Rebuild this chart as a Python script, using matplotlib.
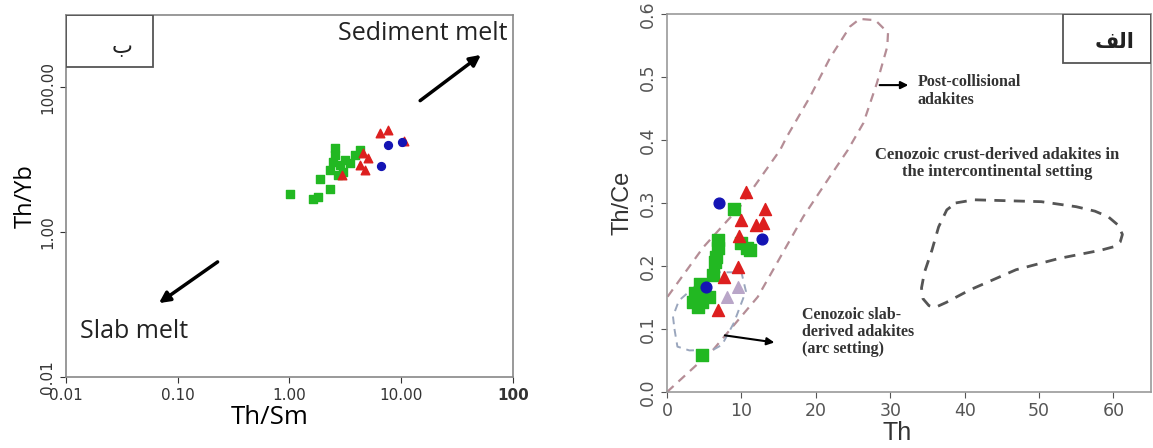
import numpy as np
import matplotlib.pyplot as plt
from matplotlib.patches import Rectangle

# ---- left diagram: Th/Sm vs Th/Yb (log-log) ----
sq_thsm = [1.01, 1.62, 1.80, 1.87, 2.30, 2.55, 2.55, 2.45, 2.83, 3.14, 3.48, 4.27, 3.01, 2.72, 3.86, 2.30]
sq_thyb = [3.34, 2.85, 3.04, 5.4, 4.0, 14.4, 11.5, 9.2, 8.4, 9.8, 9.0, 13.5, 6.7, 6.1, 11.5, 7.2]
tri_thsm = [6.46, 7.6, 4.55, 5.04, 4.28, 4.74, 2.95, 10.6]
tri_thyb = [23.2, 25.5, 12.3, 10.5, 8.4, 7.2, 6.1, 18.0]
cir_thsm = [7.6, 10.2, 6.6]
cir_thyb = [15.8, 17.4, 8.1]

# ---- right diagram: Th vs Th/Ce ----
r_sq_th = [9.0, 6.8, 6.8, 6.6, 6.5, 10.0, 10.7, 11.2, 6.2, 4.4, 3.8, 4.9, 3.5, 4.7, 4.2, 5.6, 4.7]
r_sq_ce = [0.290, 0.241, 0.228, 0.215, 0.206, 0.236, 0.228, 0.225, 0.186, 0.172, 0.157, 0.157,
           0.143, 0.143, 0.135, 0.151, 0.059]
r_tri_th = [10.6, 13.2, 10.0, 12.0, 12.9, 9.7, 9.6, 7.6, 6.9]
r_tri_ce = [0.318, 0.291, 0.273, 0.265, 0.268, 0.247, 0.199, 0.183, 0.130]
r_pur_th = [9.6, 8.0]
r_pur_ce = [0.167, 0.151]
r_cir_th = [7.0, 12.7, 5.3]
r_cir_ce = [0.300, 0.242, 0.167]

# field outlines
post_th = [0.0, 6.2, 12.2, 18.3, 21.9, 24.3, 26.4, 28.2, 29.6, 29.7, 28.0, 25.9, 24.6,
           21.9, 19.2, 16.1, 15.2, 9.8, 4.9, 0.0]
post_ce = [0.0, 0.067, 0.151, 0.278, 0.342, 0.384, 0.427, 0.49, 0.548, 0.57, 0.59, 0.592, 0.58,
           0.53, 0.468, 0.405, 0.384, 0.294, 0.23, 0.15]
slab_th = [1.0, 1.4, 3.0, 6.2, 7.4, 9.0, 10.6, 10.0, 7.0, 4.0, 1.6, 0.8, 1.0]
slab_ce = [0.10, 0.072, 0.066, 0.067, 0.075, 0.11, 0.16, 0.19, 0.19, 0.17, 0.145, 0.12, 0.10]
crust_th = [38.8, 41.3, 50.3, 55.0, 57.5, 59.3, 60.6, 61.2, 60.9, 60.2, 58.3, 52.7, 46.9, 40.7,
            37.5, 36.0, 35.2, 34.4, 34.2, 34.6, 35.6, 36.5, 37.6, 38.8]
crust_ce = [0.30, 0.305, 0.302, 0.294, 0.287, 0.278, 0.265, 0.25, 0.238, 0.231, 0.225, 0.212, 0.194,
            0.162, 0.142, 0.134, 0.137, 0.148, 0.165, 0.19, 0.225, 0.262, 0.289, 0.30]

green = '#22b822'
red = '#dd1f1f'
blue = '#1414b4'

fig = plt.figure(figsize=(11.53, 4.48), dpi=100)

# left panel
ax1 = fig.add_axes([0.057, 0.158, 0.388, 0.809])
ax1.set_xscale('log')
ax1.set_yscale('log')
ax1.set_xlim(0.01, 100)
ax1.set_ylim(0.01, 1000)
ax1.scatter(sq_thsm, sq_thyb, marker='s', s=32, color=green, zorder=3)
ax1.scatter(tri_thsm, tri_thyb, marker='^', s=38, color=red, zorder=4)
ax1.scatter(cir_thsm, cir_thyb, marker='o', s=32, color=blue, zorder=5)
ax1.set_xticks([0.01, 0.1, 1, 10, 100])
ax1.set_xticklabels(['0.01', '0.10', '1.00', '10.00', '100'])
ax1.get_xticklabels()[-1].set_fontweight('bold')
ax1.set_yticks([0.01, 1, 100])
ax1.set_yticklabels(['0.01', '1.00', '100.00'], rotation=90, va='center')
ax1.minorticks_off()
ax1.tick_params(labelsize=11, colors='#333333', length=4)
for sp in ax1.spines.values():
    sp.set_color('#888888')
    sp.set_linewidth(1.2)
ax1.set_xlabel('Th/Sm', fontsize=18.5, family='Open Sans')
ax1.xaxis.set_label_coords(0.456, -0.078)
ax1.set_ylabel('Th/Yb', fontsize=17, family='Open Sans', labelpad=2)
ax1.annotate('', xy=(54, 295), xytext=(14.1, 62),
             arrowprops=dict(arrowstyle='-|>', color='black', lw=2.5, mutation_scale=16))
ax1.annotate('', xy=(0.065, 0.10), xytext=(0.239, 0.41),
             arrowprops=dict(arrowstyle='-|>', color='black', lw=2.5, mutation_scale=16))
ax1.text(90, 556, 'Sediment melt', ha='right', va='center', fontsize=18,
         family='Open Sans', color='#222222')
ax1.text(0.0133, 0.043, 'Slab melt', ha='left', va='center', fontsize=18,
         family='Open Sans', color='#222222')
ax1.add_patch(Rectangle((0, 0.856), 0.195, 0.144, transform=ax1.transAxes,
                        fill=False, edgecolor='#555555', lw=1.3, zorder=6))
ax1.text(0.125, 0.912, 'ب', transform=ax1.transAxes, ha='center', va='center',
         fontsize=16, family='DejaVu Sans', color='#222222')

# right panel
ax2 = fig.add_axes([0.5785, 0.125, 0.4195, 0.844])
ax2.set_xlim(0, 65)
ax2.set_ylim(0, 0.6)
ax2.plot(post_th, post_ce, ls=(0, (4, 3)), color='#b58d96', lw=1.6, zorder=2, clip_on=False)
ax2.plot(slab_th, slab_ce, ls=(0, (4, 3)), color='#9aa6bd', lw=1.4, zorder=2)
ax2.plot(crust_th, crust_ce, ls=(0, (4, 3)), color='#555555', lw=2.0, zorder=2)
ax2.scatter(r_sq_th, r_sq_ce, marker='s', s=75, color=green, zorder=3)
ax2.scatter(r_pur_th, r_pur_ce, marker='^', s=70, color='#b9a6c8', zorder=3)
ax2.scatter(r_tri_th, r_tri_ce, marker='^', s=75, color=red, zorder=4)
ax2.scatter(r_cir_th, r_cir_ce, marker='o', s=60, color=blue, zorder=5)
ax2.set_xticks([0, 10, 20, 30, 40, 50, 60])
ax2.set_yticks([0.0, 0.1, 0.2, 0.3, 0.4, 0.5, 0.6])
ax2.set_yticklabels(['0.0', '0.1', '0.2', '0.3', '0.4', '0.5', '0.6'], rotation=90, va='center')
ax2.tick_params(labelsize=12.5, colors='#555555', length=4)
for sp in ax2.spines.values():
    sp.set_color('#999999')
    sp.set_linewidth(1.2)
ax2.set_xlabel('Th', fontsize=18, family='Liberation Sans', color='#333333')
ax2.xaxis.set_label_coords(0.475, -0.076)
ax2.set_ylabel('Th/Ce', fontsize=17, family='Liberation Sans', color='#333333', labelpad=4)
serif = dict(family='Liberation Serif', fontweight='bold', color='#333333')
ax2.annotate('', xy=(32.8, 0.487), xytext=(28.2, 0.487),
             arrowprops=dict(arrowstyle='-|>', color='black', lw=1.5, mutation_scale=11))
ax2.text(33.7, 0.478, 'Post-collisional\nadakites', ha='left', va='center',
         fontsize=11.5, linespacing=1.15, **serif)
ax2.text(44.4, 0.362, 'Cenozoic crust-derived adakites in\nthe intercontinental setting',
         ha='center', va='center', fontsize=12, linespacing=1.1, **serif)
ax2.annotate('', xy=(14.8, 0.078), xytext=(7.4, 0.0905),
             arrowprops=dict(arrowstyle='-|>', color='black', lw=1.5, mutation_scale=11))
ax2.text(18.1, 0.095, 'Cenozoic slab-\nderived adakites\n(arc setting)', ha='left', va='center',
         fontsize=11.5, linespacing=1.1, **serif)
ax2.add_patch(Rectangle((0.818, 0.870), 0.182, 0.130, transform=ax2.transAxes,
                        fill=False, edgecolor='#555555', lw=1.3, zorder=6))
ax2.text(0.925, 0.925, '\ufed2\ufedf\ufe8d', transform=ax2.transAxes, ha='center', va='center',
         fontsize=15, family='DejaVu Sans', fontweight='bold', color='#222222')

fig.savefig('out.png', dpi=100)
